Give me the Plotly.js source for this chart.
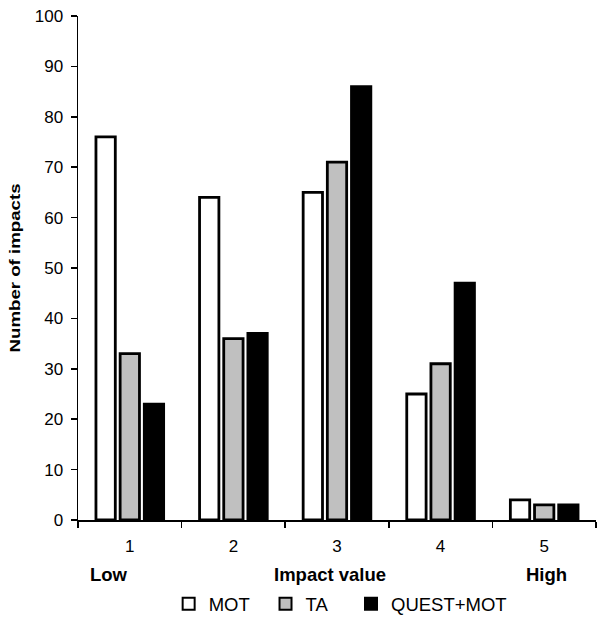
<!DOCTYPE html>
<html>
<head>
<meta charset="utf-8">
<script src="https://cdn.plot.ly/plotly-3.0.1.min.js"></script>
<style>html,body{margin:0;padding:0;background:#fff;}#chart{width:597px;height:624px;}</style>
</head>
<body>
<div id="chart"></div>
<script>
var categories = ['1', '2', '3', '4', '5'];
var seriesNames = ['MOT', 'TA', 'QUEST+MOT'];
var motValues = [76, 64, 65, 25, 4];
var taValues = [33, 36, 71, 31, 3];
var questMotValues = [23, 37, 86, 47, 3];
var yTickValues = [0, 10, 20, 30, 40, 50, 60, 70, 80, 90, 100];

var FONT = 'Liberation Sans, Arial, sans-serif';
var fills = ['#ffffff', '#c0c0c0', '#000000'];
var seriesValues = [motValues, taValues, questMotValues];
var legendIds = ['legend', 'legend2', 'legend3'];
var legendX = [0.175, 0.362, 0.527];

var traces = seriesNames.map(function (name, i) {
  return {
    type: 'bar',
    name: name,
    legend: legendIds[i],
    x: categories,
    y: seriesValues[i],
    marker: { color: fills[i], line: { color: '#000000', width: 2.8 } },
    hoverinfo: 'skip'
  };
});

function legendSpec(x) {
  return {
    orientation: 'h',
    x: x,
    xanchor: 'left',
    y: -0.167,
    yanchor: 'middle',
    bgcolor: 'rgba(0,0,0,0)',
    font: { family: FONT, size: 18.5, color: '#000000' },
    itemsizing: 'constant'
  };
}

var layout = {
  width: 597,
  height: 624,
  margin: { l: 78, r: 1, t: 16, b: 104 },
  paper_bgcolor: '#ffffff',
  plot_bgcolor: '#ffffff',
  font: { family: FONT, size: 17, color: '#000000' },
  barmode: 'group',
  bargap: 0.3,
  bargroupgap: 0.2,
  showlegend: true,
  legend: legendSpec(legendX[0]),
  legend2: legendSpec(legendX[1]),
  legend3: legendSpec(legendX[2]),
  xaxis: {
    type: 'category',
    showgrid: false,
    zeroline: false,
    showline: true,
    linecolor: '#000000',
    linewidth: 1.5,
    ticks: 'outside',
    tickson: 'boundaries',
    ticklen: 6,
    tickwidth: 1.5,
    tickcolor: '#000000',
    ticklabelstandoff: 10,
    tickfont: { family: FONT, size: 17 },
    fixedrange: true
  },
  yaxis: {
    range: [0, 100],
    tickvals: yTickValues,
    showgrid: false,
    zeroline: false,
    showline: true,
    linecolor: '#000000',
    linewidth: 1.5,
    ticks: 'outside',
    ticklen: 6,
    tickwidth: 1.5,
    tickcolor: '#000000',
    ticklabelstandoff: 4,
    tickfont: { family: FONT, size: 17 },
    title: { text: '<b>Number of impacts</b>', font: { family: FONT, size: 15.5 }, standoff: 10 },
    fixedrange: true
  },
  annotations: [
    { text: '<b>Low</b>', xref: 'paper', yref: 'paper', x: 0.06, y: -0.109, xanchor: 'center', yanchor: 'middle', showarrow: false, font: { family: FONT, size: 18.5 } },
    { text: '<b>Impact value</b>', xref: 'paper', yref: 'paper', x: 0.486, y: -0.109, xanchor: 'center', yanchor: 'middle', showarrow: false, font: { family: FONT, size: 18.5 } },
    { text: '<b>High</b>', xref: 'paper', yref: 'paper', x: 0.905, y: -0.109, xanchor: 'center', yanchor: 'middle', showarrow: false, font: { family: FONT, size: 18.5 } }
  ]
};

Plotly.newPlot('chart', traces, layout, { displayModeBar: false, staticPlot: true }).then(function (gd) {
  var t = gd.querySelector('.ytitle');
  if (t) {
    t.setAttribute('textLength', '169');
    t.setAttribute('lengthAdjust', 'spacingAndGlyphs');
  }
});
</script>
</body>
</html>
